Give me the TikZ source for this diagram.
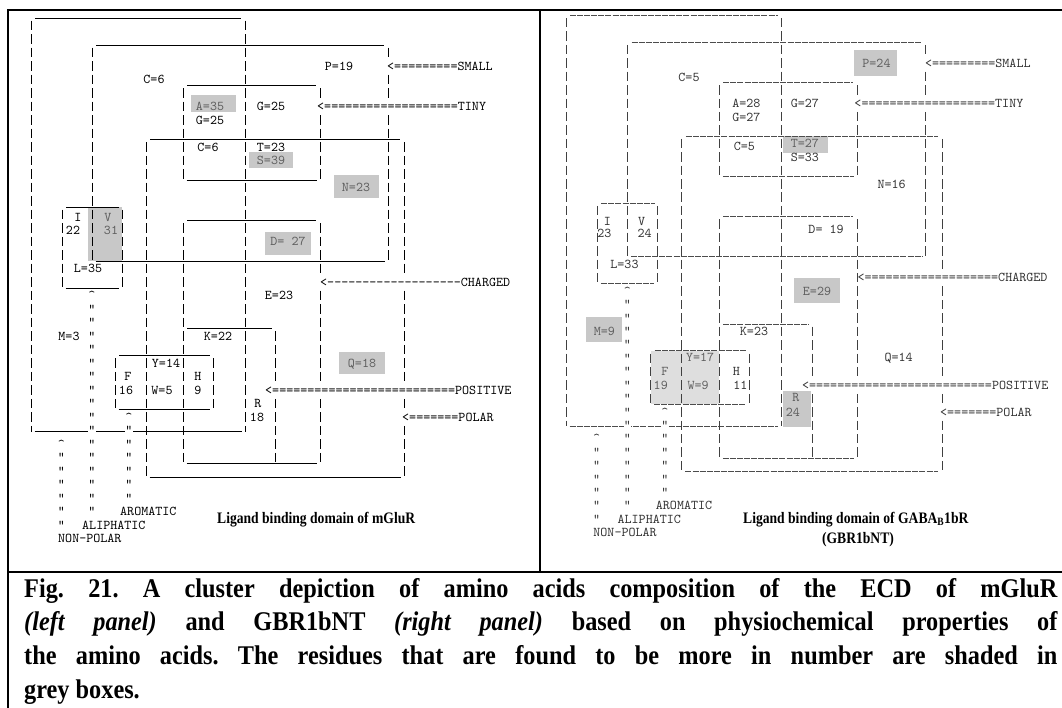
\documentclass[tikz,border=0pt]{standalone}
\usepackage{fontspec}
\setmainfont{Liberation Serif}
\newfontfamily\asciifont{lmmono10-regular.otf}
\definecolor{boxgrey}{RGB}{200,200,200}
\definecolor{boxlight}{RGB}{222,222,222}
\definecolor{inkgrey}{RGB}{95,95,95}

% the cluster boxes, in the pixel grid of the left panel
\newcommand\clusterlines{%
 % hydrophobic
 \draw[hbar] (35,18) -- (241,18) (34.5,431.5) -- (241.5,431.5);
 \draw[vbar] (31,20.75) -- (31,431.5) (245,20.75) -- (245,431.5);
 % small
 \draw[hbar] (96,45) -- (384,45) (95.5,261) -- (384.5,261);
 \draw[vbar] (92,47.75) -- (92,261) (388,47.75) -- (388,261);
 % tiny
 \draw[hbar] (187,85.5) -- (316,85.5) (186.5,180) -- (316.5,180);
 \draw[vbar] (183,88.25) -- (183,180) (320,88.25) -- (320,180);
 % polar
 \draw[hbar] (150,139.5) -- (400,139.5) (149.5,477) -- (400.5,477);
 \draw[vbar] (146,142.25) -- (146,477) (404,142.25) -- (404,477);
 % charged
 \draw[hbar] (187,220.5) -- (316,220.5) (186.5,463.5) -- (316.5,463.5);
 \draw[vbar] (183,223.25) -- (183,463.5) (320,223.25) -- (320,463.5);
 % positive
 \draw[hbar] (187,328.5) -- (272,328.5);
 \draw[vbar] (275,331.25) -- (275,463.5);
 % aliphatic
 \draw[hbar] (66,207) -- (119,207) (65.5,288) -- (118.5,288);
 \draw[vbar] (62,209.75) -- (62,288) (122,209.75) -- (122,288);
 % aromatic
 \draw[hbar] (119,355.5) -- (210,355.5) (118.5,409.5) -- (209.5,409.5);
 \draw[vbar] (115,358.25) -- (115,409.5) (213,358.25) -- (213,409.5);
}

% property arrows and pointer columns
\newcommand\clusterpointers[2]{%
 \node[tag] (#1small) at (387,66) {<=========SMALL};
 \node[tag] (#1tiny) at (317,106.5) {<===================TINY};
 \node[tag] (#1charged) at (320,282) {#2};
 \node[tag] (#1positive) at (265,390) {<==========================POSITIVE};
 \node[tag] (#1polar) at (402,417) {<=======POLAR};
 \node[ptr] (#1upa) at (61.5,444) {\textasciicircum};
 \foreach \n in {29,...,34} \node[ptr] (#1np\n) at (61.5,{66+13.5*\n}) {"};
 \node[ptr] (#1upb) at (92,295.5) {\textasciicircum};
 \foreach \n in {18,...,33} \node[ptr] (#1al\n) at (92,{66+13.5*\n}) {"};
 \node[ptr] (#1upc) at (129,417) {\textasciicircum};
 \foreach \n in {27,...,32} \node[ptr] (#1ar\n) at (129,{66+13.5*\n}) {"};
 \node[glyph, anchor=west] (#1aromatic) at (120,511.5) {AROMATIC};
 \node[glyph, anchor=west] (#1aliphatic) at (82,525) {ALIPHATIC};
 \node[glyph, anchor=west] (#1nonpolar) at (58,538.5) {NON-POLAR};
}

\begin{document}
\begin{tikzpicture}[x=1pt, y=-1pt,
 glyph/.style={font=\asciifont\fontsize{13.4}{16}\selectfont, inner sep=0pt,
  text height=8.2pt, text depth=0pt},
 tag/.style={glyph, anchor=west, fill=white, minimum height=10pt},
 ptr/.style={glyph, fill=white},
 dim/.style={text=inkgrey},
 frame/.style={line width=1.5pt, line cap=rect},
 panel/.style={inner sep=0pt, font=\fontsize{16}{18}\selectfont\bfseries},
 caption/.style={anchor=base west, inner sep=0pt,
  font=\fontsize{27}{30}\selectfont\bfseries\frenchspacing}]
 \useasboundingbox (0,0) rectangle (1062,708);
 \fill[white] (0,0) rectangle (1062,708);

 % left panel: mGluR
 \begin{scope}[vbar/.style={black, line width=0.9pt, dash pattern=on 9.5pt off 4pt},
  hbar/.style={black, line width=0.9pt}]
 \fill[boxgrey] (191,95) rectangle (236,112);
 \fill[boxgrey] (249,152) rectangle (293,168);
 \fill[boxgrey] (334,175) rectangle (379,198);
 \fill[boxgrey] (88,207) rectangle (122,261);
 \fill[boxgrey] (265,232) rectangle (311,255);
 \fill[boxgrey] (339,352) rectangle (385,374);
 \clusterlines
 \node[glyph] (lC) at (154,79.5) {C=6};
 \node[glyph] (lP) at (339,66) {P=19};
 \node[glyph, dim] (lA) at (210,106.5) {A=35};
 \node[glyph] (lGa) at (210,120) {G=25};
 \node[glyph] (lGb) at (271,106.5) {G=25};
 \node[glyph] (lCb) at (208,147) {C=6};
 \node[glyph] (lT) at (271,147) {T=23};
 \node[glyph, dim] (lS) at (271,160.5) {S=39};
 \node[glyph, dim] (lN) at (356,187.5) {N=23};
 \node[glyph] (lI) at (78,217) {I};
 \node[glyph] (lIn) at (73,230.5) {22};
 \node[glyph, dim] (lV) at (108,217) {V};
 \node[glyph, dim] (lVn) at (111,230.5) {31};
 \node[glyph, dim] (lD) at (288,241.5) {D= 27};
 \node[glyph] (lL) at (88,268.5) {L=35};
 \node[glyph] (lE) at (279,295.5) {E=23};
 \node[glyph] (lK) at (218,336) {K=22};
 \node[glyph] (lM) at (69,336) {M=3};
 \node[glyph] (lY) at (166,363) {Y=14};
 \node[glyph] (lF) at (128,376.5) {F};
 \node[glyph] (lH) at (198,376.5) {H};
 \node[glyph] (lFn) at (126,390) {16};
 \node[glyph] (lW) at (162,390) {W=5};
 \node[glyph] (lHn) at (198,390) {9};
 \node[glyph] (lR) at (258,403.5) {R};
 \node[glyph] (lRn) at (257,417) {18};
 \node[glyph, dim] (lQ) at (362,363) {Q=18};
 \clusterpointers{l}{<-------------------CHARGED}
 \end{scope}

 % right panel: GABA-B1bR, same grid a little wider
 \begin{scope}[shift={(534.75,-2.61)}, xscale=1.008, yscale=0.9941,
  nodes={text=black!80},
  vbar/.style={black!75, line width=0.9pt, dash pattern=on 9.45pt off 3.97pt},
  hbar/.style={black!70, line width=0.9pt, dash pattern=on 6pt off 1.09pt}]
 \fill[boxgrey] (317,53) rectangle (359,79);
 \fill[boxgrey] (246,139) rectangle (291,157);
 \fill[boxgrey] (257,282) rectangle (303,307);
 \fill[boxgrey] (51,321.5) rectangle (86.5,346.5);
 \fill[boxgrey] (246,395.5) rectangle (274,432);
 \fill[boxlight] (115,355.5) rectangle (183,409.5);
 \clusterlines
 \node[glyph] (rC) at (153,80) {C=5};
 \node[glyph, dim] (rP) at (339,66) {P=24};
 \node[glyph] (rA) at (210,107) {A=28};
 \node[glyph] (rGa) at (210,121) {G=27};
 \node[glyph] (rGb) at (268,107) {G=27};
 \node[glyph] (rCb) at (208,149.5) {C=5};
 \node[glyph, dim] (rT) at (268,146.5) {T=27};
 \node[glyph] (rS) at (268,160.5) {S=33};
 \node[glyph] (rN) at (354,188.5) {N=16};
 \node[glyph] (rI) at (72,225) {I};
 \node[glyph] (rIn) at (69,237) {23};
 \node[glyph] (rV) at (106,225) {V};
 \node[glyph] (rVn) at (109,237) {24};
 \node[glyph] (rD) at (289,233) {D= 19};
 \node[glyph] (rL) at (89,269) {L=33};
 \node[glyph, dim] (rE) at (280,295.5) {E=29};
 \node[glyph] (rK) at (217.5,335.5) {K=23};
 \node[glyph, dim] (rM) at (69,335.5) {M=9};
 \node[glyph, dim] (rY) at (164,362.5) {Y=17};
 \node[glyph, dim] (rF) at (129,376.5) {F};
 \node[glyph] (rH) at (200,376.5) {H};
 \node[glyph, dim] (rFn) at (125,390) {19};
 \node[glyph, dim] (rW) at (162,390) {W=9};
 \node[glyph] (rHn) at (204,390) {11};
 \node[glyph, dim] (rR) at (259,402) {R};
 \node[glyph, dim] (rRn) at (256,417) {24};
 \node[glyph] (rQ) at (361,362.5) {Q=14};
 \clusterpointers{r}{<===================CHARGED}
 \end{scope}

 \node[panel, anchor=base west] (lname) at (217,523)
  {\scalebox{0.85}[1]{Ligand binding domain of mGluR}};
 \node[panel, anchor=base west] (rname) at (743,523)
  {\scalebox{0.85}[1]{Ligand binding domain of GABA\textsubscript{B}1bR}};
 \node[panel, anchor=base] (rshort) at (858,543) {\scalebox{0.85}[1]{(GBR1bNT)}};

 % frame
 \draw[frame] (1062,10) -- (8,10) -- (8,708);
 \draw[frame] (540,10) -- (540,572);
 \draw[frame] (8,572) -- (1062,572);

 % caption
 \node[caption] (cap1) at (24,597) {\scalebox{0.9}[1]{\makebox[1148pt][s]{Fig. 21. A cluster depiction of amino acids composition of the ECD of mGluR}}};
 \node[caption] (cap2) at (24,630.7) {\scalebox{0.9}[1]{\makebox[1148pt][s]{\textit{(left panel)} and GBR1bNT \textit{(right panel)} based on physiochemical properties of}}};
 \node[caption] (cap3) at (24,664.4) {\scalebox{0.9}[1]{\makebox[1148pt][s]{the amino acids. The residues that are found to be more in number are shaded in}}};
 \node[caption] (cap4) at (24,698) {\scalebox{0.9}[1]{grey boxes.}};
\end{tikzpicture}
\end{document}
